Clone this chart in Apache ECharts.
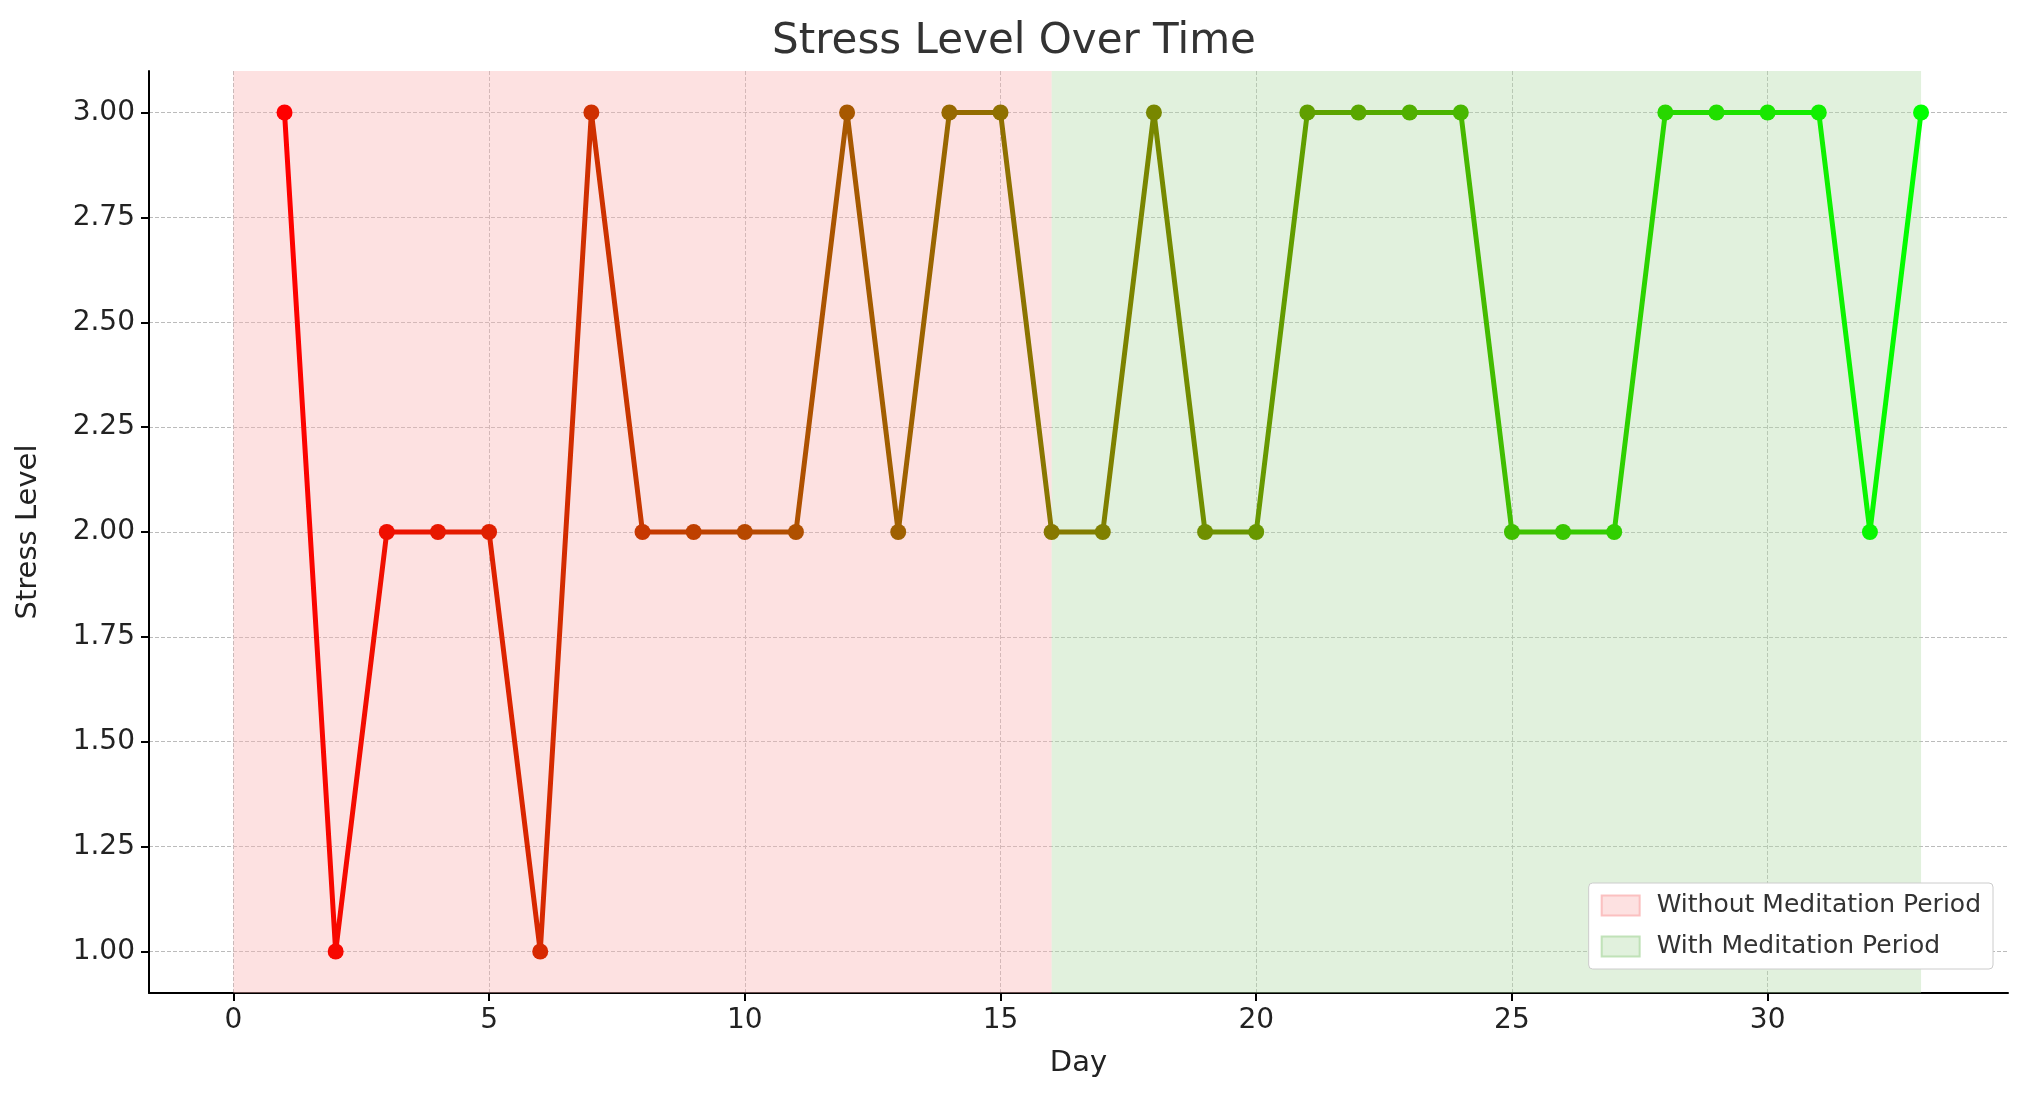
<!DOCTYPE html>
<html><head><meta charset="utf-8">
<script src="https://cdn.jsdelivr.net/npm/echarts@6/dist/echarts.min.js"></script>
<style>html,body{margin:0;padding:0;background:#fff}#c{width:2028px;height:1101px}</style>
</head><body><div id="c"></div>
<script>
var days = [1,2,3,4,5,6,7,8,9,10,11,12,13,14,15,16,17,18,19,20,21,22,23,24,25,26,27,28,29,30,31,32,33];
var stress = [3,1,2,2,2,1,3,2,2,2,2,3,2,3,3,2,2,3,2,2,3,3,3,3,2,2,2,3,3,3,3,2,3];
var xTicks = [0,5,10,15,20,25,30];
var yTicks = [1,1.25,1.5,1.75,2,2.25,2.5,2.75,3];
var periodNames = ['Without Meditation Period','With Meditation Period'];
var periodRanges = [[0,16],[16,33]];
var periodColors = ['rgba(250,180,180,0.4)','rgba(180,220,170,0.4)'];

// colour shifts from red to lime along the days
function pointColor(i) {
  var t = i / (days.length - 1);
  var r = Math.round(255 * (1 - t)), g = Math.round(255 * t);
  return 'rgb(' + r + ',' + g + ',0)';
}

var chart = echarts.init(document.getElementById('c'));
var font = 'DejaVu Sans';
var series = [{
  type: 'line',
  data: days.map(function(d, i){ return [d, stress[i]]; }),
  symbol: 'circle', symbolSize: 16,
  lineStyle: { width: 5, color: new echarts.graphic.LinearGradient(0,0,1,0,[{offset:0,color:'#ff0000'},{offset:1,color:'#00ff00'}]) },
  itemStyle: { color: function(p){ return pointColor(p.dataIndex); } },
  z: 5
}];
periodNames.forEach(function(n, k){
  series.push({
    name: n, type: 'line', data: [],
    itemStyle: { color: periodColors[k], borderColor: periodColors[k].replace('0.4','0.8'), borderWidth: 1 },
    markArea: { silent: true, itemStyle: { color: periodColors[k] },
      data: [[{ xAxis: periodRanges[k][0] }, { xAxis: periodRanges[k][1] }]] }
  });
});

chart.setOption({
  animation: false,
  textStyle: { fontFamily: font },
  title: { text: 'Stress Level Over Time', left: 'center', top: 16,
    textStyle: { fontSize: 42, fontWeight: 'normal', color: '#333', fontFamily: font } },
  grid: { left: 149, right: 20, top: 71, bottom: 108 },
  legend: {
    data: periodNames, orient: 'vertical', right: 35, bottom: 132,
    icon: 'rect', itemWidth: 38, itemHeight: 20, itemGap: 16,
    textStyle: { fontSize: 25, color: '#333', padding: [0, 0, 0, 12] },
    backgroundColor: '#fff', borderColor: '#ccc', borderWidth: 1, borderRadius: 4, padding: [10, 12]
  },
  xAxis: {
    type: 'value', min: -1.65, max: 34.7, name: 'Day', nameLocation: 'middle', nameGap: 56,
    nameTextStyle: { fontSize: 29, color: '#222' },
    axisLine: { show: true, onZero: false, lineStyle: { color: '#000', width: 2 } },
    axisTick: { show: true, customValues: xTicks, length: 8, lineStyle: { color: '#000', width: 2 } },
    axisLabel: { customValues: xTicks, fontSize: 28, color: '#222', margin: 14 },
    splitLine: { show: true, lineStyle: { color: '#bbb', type: 'dashed', width: 1 } }
  },
  yAxis: {
    type: 'value', min: 0.901, max: 3.099, name: 'Stress Level', nameLocation: 'middle', nameGap: 106,
    nameTextStyle: { fontSize: 29, color: '#222' },
    axisLine: { show: true, onZero: false, lineStyle: { color: '#000', width: 2 } },
    axisTick: { show: true, customValues: yTicks, length: 8, lineStyle: { color: '#000', width: 2 } },
    axisLabel: { customValues: yTicks, fontSize: 28, color: '#222', margin: 14,
      formatter: function(v){ return v.toFixed(2); } },
    splitLine: { show: true, lineStyle: { color: '#bbb', type: 'dashed', width: 1 } }
  },
  series: series
});
</script></body></html>
